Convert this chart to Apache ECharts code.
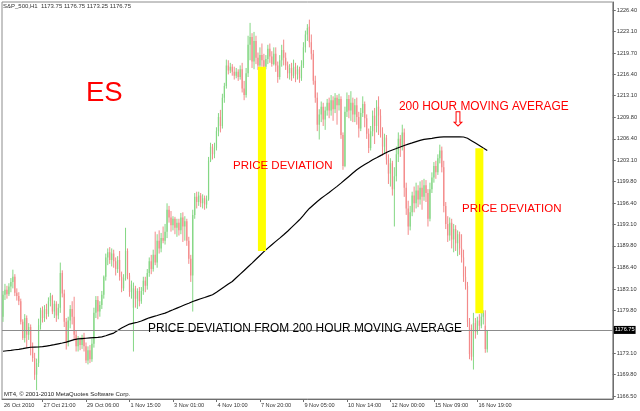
<!DOCTYPE html>
<html>
<head>
<meta charset="utf-8">
<script src="https://cdn.jsdelivr.net/npm/echarts@6/dist/echarts.min.js"></script>
<style>
html,body{margin:0;padding:0;background:#fff;}
#chart{width:640px;height:411px;}
</style>
</head>
<body>
<div id="chart"></div>
<script>
// ---- data ----
const xTickLabels = ['26 Oct 2010','27 Oct 21:00','29 Oct 06:00','1 Nov 15:00','3 Nov 01:00','4 Nov 10:00','7 Nov 20:00','9 Nov 05:00','10 Nov 14:00','12 Nov 00:00','15 Nov 09:00','16 Nov 19:00'];
const xTickIndex = [0,20,42,64,86,108,130,152,174,196,218,240];
const categoryCount = 309;
const yTickValues = [1166.50,1169.80,1173.10,1179.80,1183.10,1186.40,1189.80,1193.10,1196.40,1199.80,1203.10,1206.40,1209.80,1213.10,1216.40,1219.70,1223.10,1226.40];
const lastPrice = 1176.75;
const headerText = 'S&P_500,H1  1173.75 1176.75 1173.25 1176.75';

// candles: [open, close, low, high]
const candles = [
[1178.8,1182.2,1178.0,1182.8],[1182.2,1183.0,1181.4,1183.9],[1183.0,1182.3,1181.6,1183.6],[1182.3,1183.5,1182.0,1184.0],
[1183.5,1184.2,1182.6,1184.8],[1184.2,1185.0,1183.2,1186.1],[1185.0,1182.5,1182.0,1185.4],[1182.5,1182.0,1181.3,1183.2],
[1182.0,1181.2,1180.6,1182.6],[1181.2,1178.0,1177.6,1181.6],[1178.0,1175.5,1175.2,1178.4],[1175.5,1178.6,1174.8,1179.2],
[1178.6,1176.0,1174.0,1179.0],[1176.0,1177.2,1175.2,1177.8],[1177.2,1174.0,1172.8,1177.6],[1174.0,1172.4,1171.8,1174.8],
[1172.4,1169.8,1169.0,1173.2],[1169.8,1171.6,1167.4,1172.3],[1171.6,1177.5,1171.0,1178.5],[1177.5,1179.8,1176.8,1180.2],
[1179.8,1178.6,1177.9,1180.4],[1178.6,1180.0,1178.0,1180.6],[1180.0,1179.2,1178.4,1180.8],[1179.2,1181.2,1178.8,1181.8],
[1181.2,1182.0,1180.4,1182.5],[1182.0,1179.6,1179.2,1182.2],[1179.6,1180.8,1178.6,1181.3],[1180.8,1179.0,1178.0,1181.2],
[1179.0,1180.2,1178.4,1180.8],[1180.2,1185.6,1179.4,1187.2],[1185.6,1182.4,1181.8,1186.0],[1182.4,1178.0,1177.2,1183.0],
[1178.0,1174.8,1173.7,1178.6],[1174.8,1178.2,1174.2,1178.8],[1178.2,1180.0,1177.0,1180.6],[1180.0,1178.8,1177.6,1181.2],
[1178.8,1176.0,1175.2,1181.9],[1176.0,1174.2,1173.4,1176.6],[1174.2,1175.2,1173.4,1175.8],[1175.2,1174.4,1173.6,1175.6],
[1174.4,1175.6,1173.8,1176.0],[1175.6,1174.2,1173.4,1176.3],[1174.2,1172.0,1171.6,1174.8],[1172.0,1173.6,1171.4,1174.2],
[1173.6,1172.2,1171.6,1174.4],[1172.2,1174.6,1171.8,1175.4],[1174.6,1179.4,1174.0,1180.2],[1179.4,1181.4,1178.6,1182.0],
[1181.4,1179.6,1178.4,1182.0],[1179.6,1180.6,1178.8,1181.2],[1180.6,1182.2,1180.0,1182.8],[1182.2,1185.0,1181.6,1185.2],
[1185.0,1188.0,1184.4,1188.6],[1188.0,1188.8,1186.8,1189.4],[1188.8,1187.6,1187.0,1189.6],[1187.6,1188.6,1186.6,1189.4],
[1188.6,1187.4,1186.4,1189.2],[1187.4,1186.2,1185.2,1188.0],[1186.2,1187.6,1185.6,1188.2],[1187.6,1185.0,1184.4,1189.0],
[1185.0,1183.2,1182.6,1185.8],[1183.2,1184.8,1182.8,1185.4],[1184.8,1189.0,1184.4,1192.6],[1189.0,1185.2,1184.6,1189.4],
[1185.2,1182.6,1181.9,1185.6],[1182.6,1183.8,1181.6,1184.4],[1180.2,1183.2,1173.4,1184.1],[1183.2,1181.6,1180.2,1183.6],
[1181.6,1182.8,1180.0,1183.2],[1182.8,1181.2,1180.4,1183.4],[1181.2,1182.8,1180.8,1183.4],[1182.8,1184.4,1182.2,1185.0],
[1184.4,1183.6,1182.6,1185.0],[1183.6,1185.6,1183.0,1186.2],[1185.6,1187.4,1185.0,1188.0],[1187.4,1186.2,1185.4,1188.4],
[1186.2,1188.4,1185.8,1189.2],[1188.4,1187.2,1186.8,1192.0],[1187.2,1190.6,1186.4,1191.6],[1190.6,1189.4,1188.6,1192.2],
[1189.4,1191.0,1188.8,1191.8],[1191.0,1190.6,1190.2,1192.8],[1190.6,1192.0,1190.0,1193.2],[1192.0,1195.4,1191.0,1196.4],
[1195.4,1194.2,1193.4,1196.0],[1194.2,1193.0,1192.0,1195.2],[1193.0,1194.0,1192.2,1194.4],[1194.0,1192.6,1191.6,1194.3],
[1192.6,1193.4,1191.2,1194.0],[1193.4,1192.2,1191.4,1194.0],[1192.2,1194.2,1191.6,1194.9],[1194.2,1192.8,1190.4,1195.0],
[1192.8,1193.6,1190.6,1194.4],[1193.6,1190.6,1189.8,1194.0],[1190.6,1187.8,1187.0,1191.2],[1187.8,1185.2,1184.2,1188.4],
[1185.2,1194.6,1179.6,1195.4],[1194.6,1197.4,1194.0,1198.0],[1197.4,1196.6,1195.6,1198.2],[1196.6,1197.6,1196.0,1198.2],
[1197.6,1196.4,1195.8,1198.0],[1196.4,1197.2,1195.6,1197.8],[1197.2,1196.2,1195.4,1197.6],[1196.2,1197.0,1195.6,1197.6],
[1197.0,1203.0,1196.8,1203.6],[1203.0,1205.2,1202.8,1205.8],[1205.2,1204.0,1203.2,1205.6],[1204.0,1205.0,1203.4,1205.8],
[1205.0,1207.6,1204.6,1208.2],[1207.6,1209.8,1206.8,1210.4],[1209.8,1208.4,1207.4,1210.9],[1208.4,1212.8,1208.0,1213.4],
[1212.8,1214.6,1212.0,1215.1],[1214.6,1217.8,1214.2,1218.7],[1217.8,1217.0,1216.4,1218.6],[1217.0,1217.6,1216.6,1218.2],
[1217.6,1216.8,1216.2,1218.0],[1216.8,1216.2,1215.6,1217.6],[1216.2,1216.8,1215.8,1217.4],[1216.8,1216.0,1215.4,1217.2],
[1216.0,1217.2,1215.6,1217.8],[1217.2,1214.2,1213.6,1218.2],[1214.2,1213.2,1212.4,1215.4],[1213.2,1216.6,1212.8,1217.4],
[1216.6,1221.0,1216.0,1222.4],[1221.0,1222.2,1218.6,1224.4],[1222.2,1218.4,1217.4,1222.8],[1218.4,1221.6,1217.2,1223.0],
[1221.6,1219.0,1218.0,1222.4],[1219.0,1217.8,1217.1,1219.8],[1217.8,1219.4,1217.2,1220.6],[1219.4,1218.6,1217.6,1221.2],
[1218.6,1217.6,1217.0,1219.6],[1217.6,1218.8,1217.2,1219.4],[1218.8,1220.4,1218.0,1221.0],[1220.4,1219.2,1218.2,1221.2],
[1219.2,1218.0,1217.6,1220.0],[1218.0,1219.6,1217.8,1220.6],[1219.6,1217.8,1216.8,1220.6],[1217.8,1216.0,1215.1,1218.4],
[1216.0,1218.6,1215.6,1219.4],[1218.6,1220.2,1217.6,1221.0],[1220.2,1219.0,1217.8,1221.8],[1219.0,1217.8,1217.1,1219.8],
[1217.8,1216.6,1215.8,1218.4],[1216.6,1217.4,1215.6,1218.0],[1217.4,1216.2,1215.4,1218.2],[1216.2,1217.6,1215.8,1218.7],
[1217.6,1216.4,1215.2,1218.2],[1216.4,1217.2,1215.6,1217.8],[1217.2,1215.8,1215.1,1217.6],[1215.8,1217.8,1215.4,1218.6],
[1217.8,1220.6,1217.4,1221.4],[1220.6,1222.6,1219.8,1223.2],[1222.6,1223.6,1221.6,1224.2],[1223.8,1221.4,1220.6,1224.9],
[1221.4,1219.6,1218.7,1222.6],[1219.6,1215.4,1214.8,1220.2],[1215.4,1212.8,1212.0,1216.2],[1212.8,1208.6,1207.6,1213.6],
[1208.6,1210.2,1206.3,1211.0],[1210.2,1211.4,1209.0,1212.2],[1211.4,1209.4,1208.4,1212.0],[1209.4,1210.8,1207.8,1211.4],
[1210.8,1212.0,1210.0,1212.6],[1212.0,1210.8,1209.6,1212.8],[1210.8,1212.4,1210.0,1213.2],[1212.4,1211.0,1209.2,1213.0],
[1211.0,1212.8,1210.4,1213.5],[1212.8,1211.6,1208.6,1213.2],[1211.6,1212.6,1210.8,1213.4],[1212.6,1207.0,1206.4,1213.0],
[1207.0,1202.2,1201.6,1207.4],[1202.2,1210.6,1202.0,1211.4],[1210.6,1212.6,1209.8,1213.6],[1212.6,1210.8,1209.6,1213.2],
[1210.8,1212.0,1209.2,1213.8],[1212.0,1210.2,1209.0,1212.8],[1210.2,1211.6,1209.0,1212.6],[1211.6,1209.8,1208.6,1212.8],
[1209.8,1208.0,1206.6,1210.6],[1208.0,1210.4,1207.6,1211.2],[1210.4,1211.8,1209.8,1213.0],[1211.8,1209.6,1208.2,1212.2],
[1209.6,1207.2,1206.4,1210.2],[1207.2,1205.0,1204.2,1208.0],[1205.0,1207.6,1204.6,1208.4],[1207.6,1210.0,1206.8,1210.8],
[1210.0,1208.4,1205.6,1211.2],[1208.4,1211.4,1207.4,1212.4],[1211.4,1210.0,1207.0,1213.0],[1210.0,1207.4,1206.6,1211.0],
[1207.4,1205.2,1203.8,1208.2],[1205.2,1206.6,1204.2,1207.2],[1206.6,1203.2,1202.4,1207.0],[1203.2,1201.0,1199.4,1204.0],
[1201.0,1202.6,1199.0,1203.4],[1202.6,1198.6,1197.6,1203.0],[1198.6,1200.6,1192.8,1202.0],[1200.6,1204.0,1199.8,1205.2],
[1204.0,1206.4,1202.8,1207.4],[1206.4,1205.2,1203.6,1207.0],[1205.2,1207.4,1204.6,1208.6],[1207.4,1198.8,1197.4,1208.0],
[1198.8,1195.6,1194.6,1199.6],[1195.6,1192.8,1191.5,1196.8],[1192.8,1195.0,1192.2,1196.0],[1195.0,1197.6,1194.4,1198.2],
[1197.6,1196.4,1195.0,1199.0],[1196.4,1198.4,1195.6,1199.6],[1198.4,1197.0,1195.8,1199.2],[1197.0,1198.8,1196.2,1199.8],
[1198.8,1197.4,1195.4,1200.0],[1197.4,1199.2,1196.8,1200.2],[1199.2,1198.0,1196.6,1200.0],[1198.0,1194.0,1192.8,1198.6],
[1194.0,1198.6,1193.6,1199.6],[1198.6,1200.4,1198.0,1201.2],[1200.4,1202.2,1199.6,1202.8],[1202.2,1201.2,1200.2,1203.0],
[1201.2,1203.4,1200.8,1204.0],[1203.4,1204.6,1202.6,1205.5],[1204.6,1202.0,1201.2,1205.2],[1202.0,1196.0,1195.0,1203.0],
[1196.0,1193.2,1192.4,1196.6],[1193.2,1191.4,1190.4,1194.4],[1191.4,1193.4,1190.6,1194.2],[1193.4,1190.8,1189.4,1194.0],
[1190.8,1192.4,1188.8,1193.2],[1192.4,1190.2,1189.0,1193.0],[1190.2,1191.6,1188.2,1192.2],[1191.6,1189.4,1188.4,1192.0],
[1189.4,1188.0,1187.2,1191.6],[1188.0,1185.0,1184.2,1189.2],[1185.0,1183.6,1183.0,1186.6],[1183.6,1178.0,1177.2,1184.2],
[1178.0,1173.0,1172.2,1178.6],[1177.0,1172.6,1172.0,1177.6],[1172.6,1177.8,1170.6,1179.4],[1177.8,1176.4,1175.4,1178.6],
[1176.4,1178.2,1176.0,1178.8],[1178.2,1177.4,1176.6,1179.2],[1177.4,1178.8,1177.0,1179.4],[1178.8,1179.4,1177.6,1179.8],
[1177.4,1173.8,1173.2,1179.8],[1173.75,1176.75,1173.25,1176.75]
];

// 200 hour moving average, one value per candle
const ma200 = [
1173.44,1173.48,1173.52,1173.55,1173.59,1173.63,1173.67,1173.70,1173.74,1173.78,
1173.84,1173.90,1173.95,1174.01,1174.06,1174.07,1174.08,1174.09,1174.10,1174.11,
1174.16,1174.20,1174.25,1174.30,1174.34,1174.40,1174.46,1174.53,1174.59,1174.65,
1174.72,1174.79,1174.86,1174.95,1175.05,1175.14,1175.24,1175.33,
1175.36,1175.38,1175.41,1175.43,1175.46,1175.48,1175.51,1175.53,
1175.55,1175.57,1175.58,1175.60,1175.68,1175.76,1175.84,1175.94,1176.05,1176.15,1176.26,
1176.47,1176.67,1176.88,1177.04,1177.19,1177.35,1177.50,1177.66,
1177.73,1177.80,1177.87,1177.94,1178.01,1178.13,1178.26,1178.38,1178.51,1178.63,
1178.72,1178.81,1178.90,1178.99,1179.08,1179.18,1179.27,1179.36,
1179.49,1179.62,1179.75,1179.87,1180.00,1180.13,1180.26,1180.39,1180.52,1180.65,1180.77,1180.90,1181.03,1181.16,
1181.26,1181.37,1181.47,1181.58,1181.68,1181.78,1181.89,1181.99,1182.10,1182.20,
1182.41,1182.61,1182.82,1183.03,1183.23,1183.44,1183.65,1183.86,1184.06,1184.27,
1184.56,1184.84,1185.13,1185.41,1185.70,1185.98,1186.27,1186.55,1186.84,1187.12,
1187.42,1187.71,1188.01,1188.30,1188.60,1188.90,1189.19,
1189.45,1189.71,1189.97,1190.23,1190.49,1190.74,1191.00,1191.26,1191.52,1191.78,
1192.07,1192.37,1192.66,1192.96,1193.25,1193.55,1193.84,
1194.19,1194.54,1194.90,1195.25,1195.60,1195.87,1196.14,1196.41,1196.68,1196.95,
1197.18,1197.40,1197.63,1197.85,1198.08,1198.32,1198.56,1198.79,1199.03,1199.27,
1199.53,1199.79,1200.05,1200.31,1200.57,1200.83,1201.09,1201.35,1201.61,1201.87,
1202.05,1202.24,1202.42,1202.60,1202.78,1202.97,1203.15,
1203.31,1203.47,1203.63,1203.80,1203.96,1204.12,1204.28,1204.44,
1204.56,1204.67,1204.79,1204.90,1205.02,1205.14,1205.25,1205.37,1205.48,
1205.58,1205.67,1205.77,1205.87,1205.97,1206.06,1206.16,1206.26,
1206.31,1206.35,1206.40,1206.45,1206.49,1206.54,1206.59,1206.63,1206.68,
1206.69,1206.70,1206.70,1206.71,1206.71,1206.71,1206.71,1206.71,1206.71,1206.70,1206.70,1206.69,1206.68,
1206.49,1206.31,1206.12,1205.94,1205.75,
1205.56,1205.37,1205.18,1204.98,1204.79,1204.60
];

// yellow deviation bars: [candle index, low, high]
const deviationBars = [[131, 1189.0, 1217.6], [241, 1179.35, 1204.95]];

// ---- chart ----
const categories = [];
for (let i = 0; i < categoryCount; i++) {
  const k = xTickIndex.indexOf(i);
  categories.push(k >= 0 ? xTickLabels[k] : '');
}
const isTick = (idx) => xTickIndex.indexOf(idx) >= 0;
const candleRows = candles.map((d, i) => [i, d[0], d[1], d[2], d[3]]);

const UP = '#84d784';
const DOWN = '#f38a8a';
const RED = '#ff0000';
const annFont = 'Liberation Sans, Arial, sans-serif';

const chart = echarts.init(document.getElementById('chart'), null, {renderer: 'canvas'});

chart.setOption({
  animation: false,
  backgroundColor: '#ffffff',
  grid: {left: 2, right: 26, top: 2, bottom: 12, show: true, borderColor: '#8c8c8c', borderWidth: 1},
  xAxis: {
    type: 'category', data: categories, boundaryGap: true,
    axisLine: {show: true, lineStyle: {color: '#6e6e6e', width: 1}},
    axisTick: {show: true, alignWithLabel: true, length: 3, interval: (idx) => idx > 0 && isTick(idx), lineStyle: {color: '#6e6e6e'}},
    axisLabel: {show: true, interval: (idx) => isTick(idx), align: 'left', margin: 3, padding: [0, 0, 0, 1],
      fontSize: 5.6, color: '#333', fontFamily: 'Liberation Sans'},
    splitLine: {show: false}
  },
  yAxis: {
    type: 'value', position: 'right', min: 1166.03, max: 1227.64, scale: true,
    splitLine: {show: false},
    axisLine: {show: true, lineStyle: {color: '#6e6e6e', width: 1}},
    axisTick: {show: true, customValues: yTickValues, length: 3, lineStyle: {color: '#6e6e6e'}},
    axisLabel: {customValues: yTickValues, formatter: (v) => Number(v).toFixed(2), margin: 4,
      fontSize: 5.6, color: '#333', fontFamily: 'Liberation Sans'}
  },
  series: [
    {
      type: 'custom', z: 2, data: candleRows,
      encode: {x: 0, y: [1, 2, 3, 4]},
      renderItem: (params, api) => {
        const i = api.value(0), o = api.value(1), c = api.value(2), l = api.value(3), h = api.value(4);
        const pH = api.coord([i, h]), pL = api.coord([i, l]);
        const pO = api.coord([i, o]), pC = api.coord([i, c]);
        const col = c >= o ? UP : DOWN;
        const top = Math.min(pO[1], pC[1]);
        const hgt = Math.max(Math.abs(pO[1] - pC[1]), 1);
        return {
          type: 'group',
          children: [
            {type: 'line', shape: {x1: pH[0], y1: pH[1], x2: pL[0], y2: pL[1]}, style: {stroke: col, lineWidth: 1}},
            {type: 'rect', shape: {x: pO[0] - 0.6, y: top, width: 1.2, height: hgt}, style: {fill: col}}
          ]
        };
      }
    },
    {
      type: 'line', data: ma200, showSymbol: false, symbol: 'none', z: 3,
      lineStyle: {color: '#000', width: 1.2},
      markLine: {
        silent: true, symbol: 'none', animation: false,
        lineStyle: {color: '#8c8c8c', width: 1, type: 'solid'},
        label: {show: true, position: 'end', distance: 1, formatter: () => lastPrice.toFixed(2),
          backgroundColor: '#000', color: '#fff', fontSize: 5.6, padding: [1, 1], fontFamily: 'Liberation Sans'},
        data: [{yAxis: lastPrice}]
      }
    },
    {
      type: 'custom', z: 4, data: deviationBars,
      renderItem: (params, api) => {
        const top = api.coord([api.value(0), api.value(2)]);
        const bot = api.coord([api.value(0), api.value(1)]);
        const w = 8;
        return {type: 'rect', shape: {x: top[0] - w / 2, y: top[1], width: w, height: bot[1] - top[1]}, style: {fill: '#ffff00'}};
      }
    }
  ],
  graphic: [
    {type: 'text', z: 100, x: 3, y: 6, style: {text: headerText, fill: '#333', font: '6px Liberation Sans', verticalAlign: 'middle', textVerticalAlign: 'middle'}},
    {type: 'text', z: 100, x: 4, y: 394, style: {text: 'MT4, © 2001-2010 MetaQuotes Software Corp.', fill: '#222', font: '6px Liberation Sans', verticalAlign: 'middle', textVerticalAlign: 'middle'}},
    {type: 'text', z: 100, x: 86, y: 93, style: {text: 'ES', fill: RED, font: '27.5px ' + annFont, verticalAlign: 'middle', textVerticalAlign: 'middle'}},
    {type: 'text', z: 100, x: 233, y: 166, style: {text: 'PRICE DEVIATION', fill: RED, font: '11.5px ' + annFont, verticalAlign: 'middle', textVerticalAlign: 'middle'}},
    {type: 'text', z: 100, x: 462, y: 209, style: {text: 'PRICE DEVIATION', fill: RED, font: '11.5px ' + annFont, verticalAlign: 'middle', textVerticalAlign: 'middle'}},
    {type: 'text', z: 100, x: 399, y: 106.7, style: {text: '200 HOUR MOVING AVERAGE', fill: RED, font: '11.9px ' + annFont, verticalAlign: 'middle', textVerticalAlign: 'middle'}},
    {type: 'text', z: 100, x: 458, y: 121, style: {text: '⇩', fill: RED, font: '20px DejaVu Sans', align: 'center', textAlign: 'center', verticalAlign: 'middle', textVerticalAlign: 'middle'}},
    {type: 'text', z: 100, x: 148, y: 329, style: {text: 'PRICE DEVIATION FROM 200 HOUR MOVING AVERAGE', fill: '#000', font: '11.9px ' + annFont, verticalAlign: 'middle', textVerticalAlign: 'middle'}}
  ]
});
</script>
</body>
</html>
